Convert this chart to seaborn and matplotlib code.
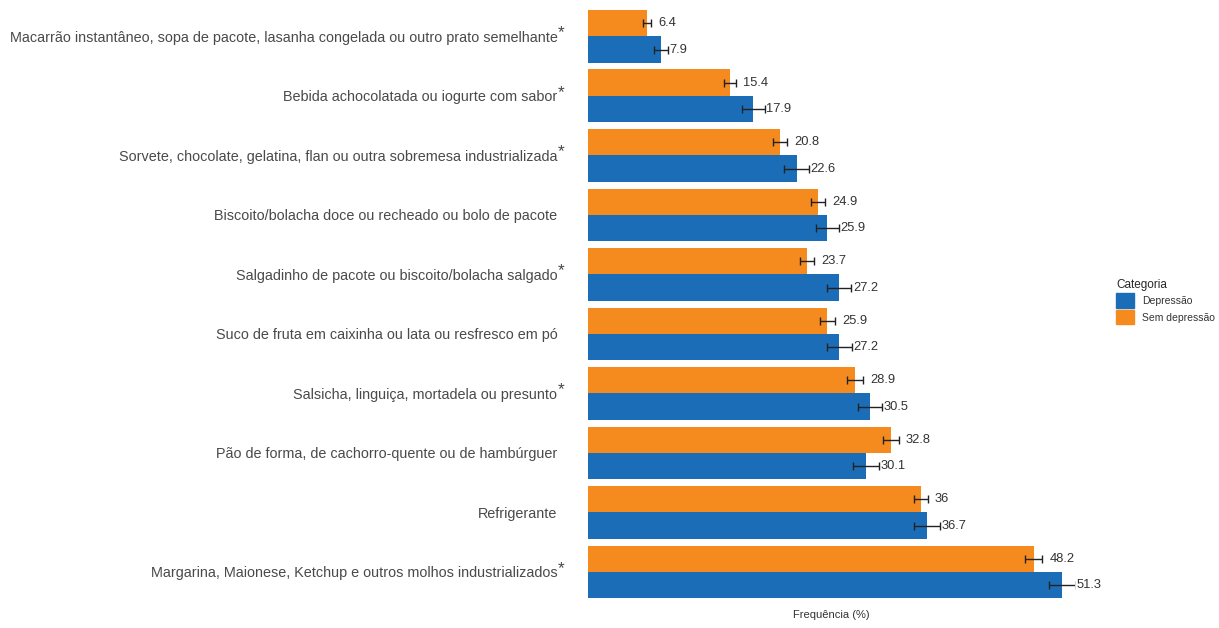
import numpy as np
import pandas as pd
import matplotlib
matplotlib.use("Agg")
import matplotlib.pyplot as plt
import matplotlib.patches as mpatches
import seaborn as sns

categories = [
    "Macarrão instantâneo, sopa de pacote, lasanha congelada ou outro prato semelhante",
    "Bebida achocolatada ou iogurte com sabor",
    "Sorvete, chocolate, gelatina, flan ou outra sobremesa industrializada",
    "Biscoito/bolacha doce ou recheado ou bolo de pacote",
    "Salgadinho de pacote ou biscoito/bolacha salgado",
    "Suco de fruta em caixinha ou lata ou resfresco em pó",
    "Salsicha, linguiça, mortadela ou presunto",
    "Pão de forma, de cachorro-quente ou de hambúrguer",
    "Refrigerante",
    "Margarina, Maionese, Ketchup e outros molhos industrializados",
]
significant = [True, True, True, False, True, False, True, False, False, True]
sem_depressao = [6.4, 15.4, 20.8, 24.9, 23.7, 25.9, 28.9, 32.8, 36.0, 48.2]
depressao = [7.9, 17.9, 22.6, 25.9, 27.2, 27.2, 30.5, 30.1, 36.7, 51.3]
sem_depressao_err = [0.45, 0.65, 0.75, 0.75, 0.75, 0.85, 0.85, 0.85, 0.75, 0.95]
depressao_err = [0.8, 1.2, 1.35, 1.25, 1.3, 1.35, 1.3, 1.4, 1.4, 1.45]
value_labels_sem = ["6.4", "15.4", "20.8", "24.9", "23.7", "25.9", "28.9", "32.8", "36", "48.2"]
value_labels_dep = ["7.9", "17.9", "22.6", "25.9", "27.2", "27.2", "30.5", "30.1", "36.7", "51.3"]

hue_order = ["Sem depressão", "Depressão"]
colors = {"Depressão": "#1b6db8", "Sem depressão": "#f58a1f"}

df = pd.DataFrame({
    "Alimento": categories * 2,
    "Categoria": ["Sem depressão"] * len(categories) + ["Depressão"] * len(categories),
    "Frequência": sem_depressao + depressao,
})
errs = {"Sem depressão": sem_depressao_err, "Depressão": depressao_err}
labs = {"Sem depressão": value_labels_sem, "Depressão": value_labels_dep}

sns.set_theme(style="white")
plt.rcParams["font.family"] = ["Liberation Sans", "DejaVu Sans"]

fig = plt.figure(figsize=(12.19, 6.28), dpi=100)
ax = fig.add_axes([0.4824, 0.0418, 0.3996, 0.9475])

sns.barplot(data=df, y="Alimento", x="Frequência", hue="Categoria",
            hue_order=hue_order, order=categories, palette=colors,
            orient="h", width=0.89, errorbar=None, legend=False,
            saturation=1, ax=ax, linewidth=0)

for cont, hue in zip(ax.containers, hue_order):
    for i, patch in enumerate(cont.patches):
        yc = patch.get_y() + patch.get_height() / 2
        val = patch.get_width()
        e = errs[hue][i]
        ax.errorbar(val, yc, xerr=e, fmt="none", ecolor="#222222",
                    elinewidth=1.0, capsize=3, capthick=1.0, zorder=5)
        off = 5 if hue == "Sem depressão" else 1
        ax.annotate(labs[hue][i], xy=(val + e, yc), xytext=(off, 0),
                    textcoords="offset points", va="center", ha="left",
                    fontsize=9.3, color="#333333", annotation_clip=False)

ax.set_xlim(0, 52.7)
ax.set_ylim(9.5, -0.5)
ax.set_xticks([])
ax.set_ylabel("")
ax.set_xlabel("Frequência (%)", fontsize=8, color="#333333", labelpad=6)
for s in ax.spines.values():
    s.set_visible(False)
ax.tick_params(axis="y", length=0, pad=22, labelsize=10.4, labelcolor="#4a4a4a")

for i, sig in enumerate(significant):
    if sig:
        ax.annotate("*", xy=(0, i), xycoords=("axes fraction", "data"),
                    xytext=(-22, 2.5), textcoords="offset points",
                    ha="left", va="center", fontsize=12.5, color="#444444",
                    annotation_clip=False)

handles = [mpatches.Patch(color=colors["Depressão"], label="Depressão"),
           mpatches.Patch(color=colors["Sem depressão"], label="Sem depressão")]
leg = fig.legend(handles=handles, title="Categoria", loc="upper left",
                 bbox_to_anchor=(0.908, 0.57), frameon=False, fontsize=7.5,
                 title_fontsize=8.5, handlelength=1.75, handleheight=1.75,
                 handletextpad=0.75, labelspacing=0.2, alignment="left")
for t in leg.get_texts():
    t.set_color("#333333")

fig.savefig("out.png", dpi=100)
